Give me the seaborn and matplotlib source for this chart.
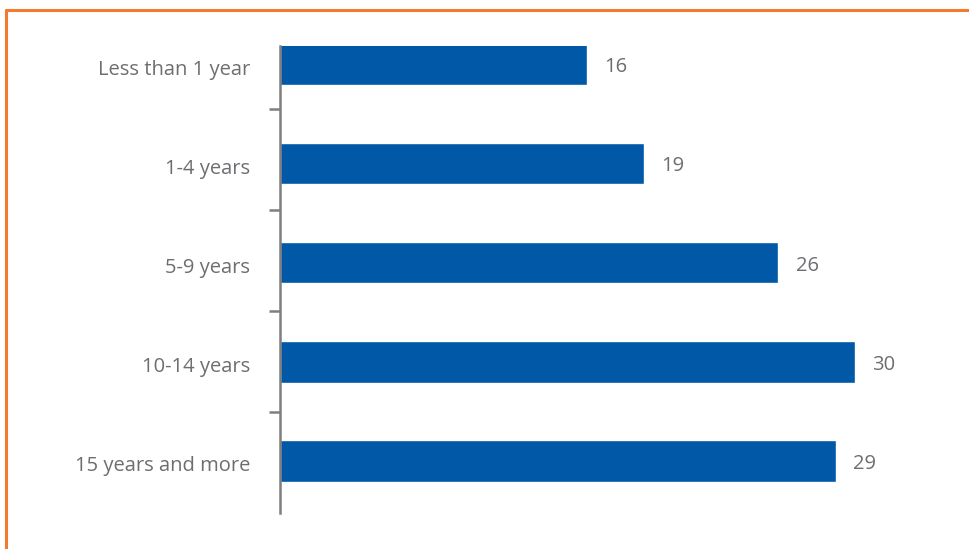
import matplotlib
matplotlib.use("Agg")
import matplotlib.pyplot as plt
from matplotlib.lines import Line2D
import seaborn as sns
import pandas as pd

categories = ["Less than 1 year", "1-4 years", "5-9 years", "10-14 years", "15 years and more"]
values = [16, 19, 26, 30, 29]

df = pd.DataFrame({"tenure": categories, "share": values})

sns.set_theme(style="white")
plt.rcParams["font.family"] = ["Open Sans", "DejaVu Sans"]

W, H = 970, 549
fig = plt.figure(figsize=(W / 100, H / 100), dpi=100)
ax = fig.add_axes([280 / W, 1 - 513 / H, (W - 280) / W, (513 - 46) / H])

bar_color = "#0058A7"
text_color = "#6D6E71"

sns.barplot(data=df, x="share", y="tenure", order=categories, color=bar_color,
            width=0.42, saturation=1, ax=ax)

ax.set_xlim(0, (W - 280) / 19.17)
ax.set_ylim(4.525, -0.185)

for i, v in enumerate(values):
    ax.text(v + 0.9, i + 0.03, f"{v}", va="center", ha="left", fontsize=14.5, color=text_color)

# category labels, with ticks on the band boundaries
ax.set_yticks([i + 0.03 for i in range(len(categories))])
ax.set_yticklabels(categories, fontsize=14.5, color=text_color)
ax.tick_params(axis="y", which="major", length=0, pad=21.5)
ax.set_yticks([0.45, 1.47, 2.49, 3.51], minor=True)
ax.tick_params(axis="y", which="minor", length=8, width=1.8, color="#7F7F7F", left=True)

ax.set_xticks([])
ax.set_xlabel("")
ax.set_ylabel("")
for side in ["top", "right", "bottom"]:
    ax.spines[side].set_visible(False)
ax.spines["left"].set_color("#7F7F7F")
ax.spines["left"].set_linewidth(1.8)

# orange frame along the top and left edges
frame_color = "#F47A2F"
fig.add_artist(Line2D([6 / W, 1.0], [1 - 10 / H, 1 - 10 / H], color=frame_color, lw=2.2,
                      transform=fig.transFigure))
fig.add_artist(Line2D([6 / W, 6 / W], [0.0, 1 - 10 / H], color=frame_color, lw=2.2,
                      transform=fig.transFigure))

fig.savefig("out.png", dpi=100)
